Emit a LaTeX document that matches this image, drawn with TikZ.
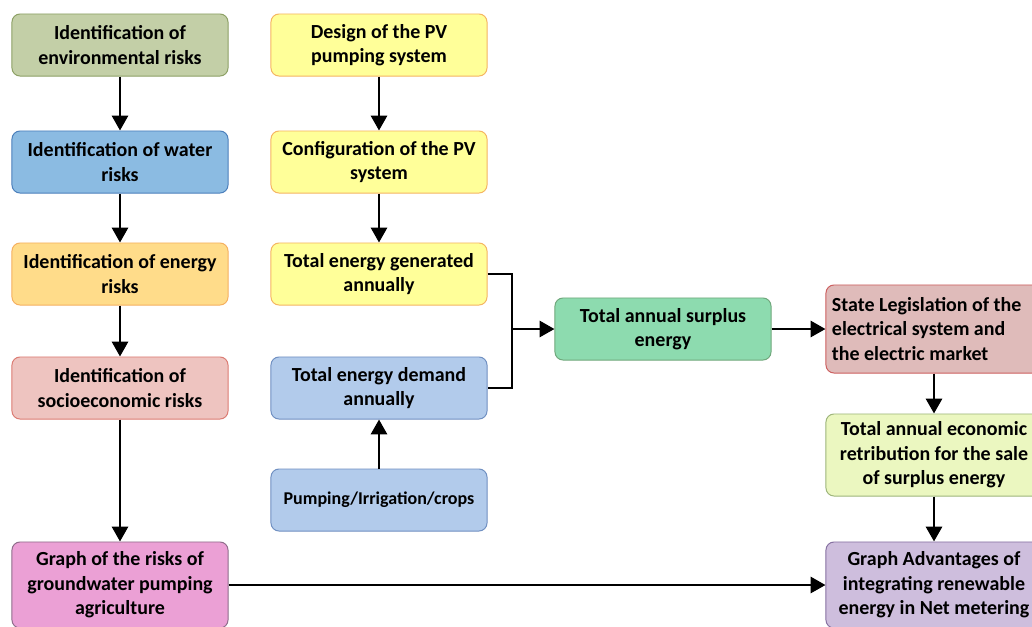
\documentclass[tikz,border=0pt]{standalone}
\usepackage{fontspec}
\setmainfont{Carlito}
\usepackage{tikz}
\usetikzlibrary{arrows.meta, positioning}
\definecolor{pvolive}{RGB}{195, 207, 167}
\definecolor{pvoliveline}{RGB}{140, 160, 100}
\definecolor{pvblue}{RGB}{139, 187, 226}
\definecolor{pvblueline}{RGB}{74, 126, 187}
\definecolor{pvorange}{RGB}{255, 220, 138}
\definecolor{pvorangeline}{RGB}{245, 175, 95}
\definecolor{pvyellow}{RGB}{255, 255, 153}
\definecolor{pvyellowline}{RGB}{245, 180, 97}
\definecolor{pvrose}{RGB}{238, 196, 192}
\definecolor{pvroseline}{RGB}{219, 123, 114}
\definecolor{pvsky}{RGB}{178, 203, 235}
\definecolor{pvskyline}{RGB}{111, 143, 193}
\definecolor{pvpink}{RGB}{235, 160, 213}
\definecolor{pvpinkline}{RGB}{142, 108, 138}
\definecolor{pvmint}{RGB}{141, 219, 175}
\definecolor{pvmintline}{RGB}{111, 167, 123}
\definecolor{pvred}{RGB}{223, 187, 186}
\definecolor{pvredline}{RGB}{204, 94, 94}
\definecolor{pvlime}{RGB}{235, 247, 192}
\definecolor{pvlimeline}{RGB}{157, 180, 122}
\definecolor{pvlilac}{RGB}{206, 190, 221}
\definecolor{pvlilacline}{RGB}{134, 113, 161}

\begin{document}
\begin{tikzpicture}[x=0.025cm, y=0.025cm,
  box/.style={rectangle, rounded corners=0.2cm, draw, line width=0.7pt,
              minimum width=5.4cm, minimum height=1.55cm, align=center,
              inner sep=2pt, font=\fontsize{14.2}{17.4}\selectfont\bfseries},
  tall/.style={minimum height=2.15cm},
  link/.style={line width=1.9pt, -{Triangle[length=0.37cm, width=0.4cm]}}]
  \useasboundingbox (0,0) rectangle (1032,-626);

  % Risk column
  \node[box, fill=pvolive, draw=pvoliveline] (envrisk) at (120,-45)
    {Identification of\\environmental risks};
  \node[box, fill=pvblue, draw=pvblueline] (waterrisk) at (120,-162)
    {Identification of water\\risks};
  \node[box, fill=pvorange, draw=pvorangeline] (energyrisk) at (120,-274)
    {Identification of energy\\risks};
  \node[box, fill=pvrose, draw=pvroseline] (sociorisk) at (120,-388)
    {Identification of\\socioeconomic risks};
  \node[box, tall, fill=pvpink, draw=pvpinkline] (riskgraph) at (120,-585)
    {Graph of the risks of\\groundwater pumping\\agriculture};

  % PV column
  \node[box, fill=pvyellow, draw=pvyellowline] (design) at (379,-45)
    {Design of the PV\\pumping system};
  \node[box, fill=pvyellow, draw=pvyellowline] (config) at (379,-162)
    {Configuration of the PV\\system};
  \node[box, fill=pvyellow, draw=pvyellowline] (generated) at (379,-274)
    {Total energy generated\\annually};
  \node[box, fill=pvsky, draw=pvskyline] (demand) at (379,-388)
    {Total energy demand\\annually};
  \node[box, fill=pvsky, draw=pvskyline,
        font=\fontsize{12.8}{15.6}\selectfont\bfseries] (pumping) at (379,-500)
    {Pumping/Irrigation/crops};

  % Surplus and market
  \node[box, fill=pvmint, draw=pvmintline] (surplus) at (663,-329)
    {Total annual surplus\\energy};
  \node[box, minimum height=2.2cm, fill=pvred, draw=pvredline,
        text width=5.1cm, align=flush left] (legislation) at (934,-329)
    {State Legislation of the\\electrical system and\\the electric market};
  \node[box, minimum height=2.05cm, fill=pvlime, draw=pvlimeline] (retribution) at (934,-455)
    {Total annual economic\\retribution for the sale\\of surplus energy};
  \node[box, tall, fill=pvlilac, draw=pvlilacline] (advantages) at (934,-585)
    {Graph Advantages of\\integrating renewable\\energy in Net metering};

  % Connectors
  \draw[link] (envrisk) -- (waterrisk);
  \draw[link] (waterrisk) -- (energyrisk);
  \draw[link] (energyrisk) -- (sociorisk);
  \draw[link] (sociorisk) -- (riskgraph);
  \draw[link] (design) -- (config);
  \draw[link] (config) -- (generated);
  \draw[link] (pumping) -- (demand);

  \coordinate (merge) at (512,-329);
  \draw[line width=1.9pt] (generated.east) -| (merge) |- (demand.east);
  \draw[link] (merge) -- (surplus);
  \draw[link] (surplus) -- (legislation);
  \draw[link] (legislation) -- (retribution);
  \draw[link] (retribution) -- (advantages);
  \draw[link] (riskgraph) -- (advantages);
\end{tikzpicture}
\end{document}
